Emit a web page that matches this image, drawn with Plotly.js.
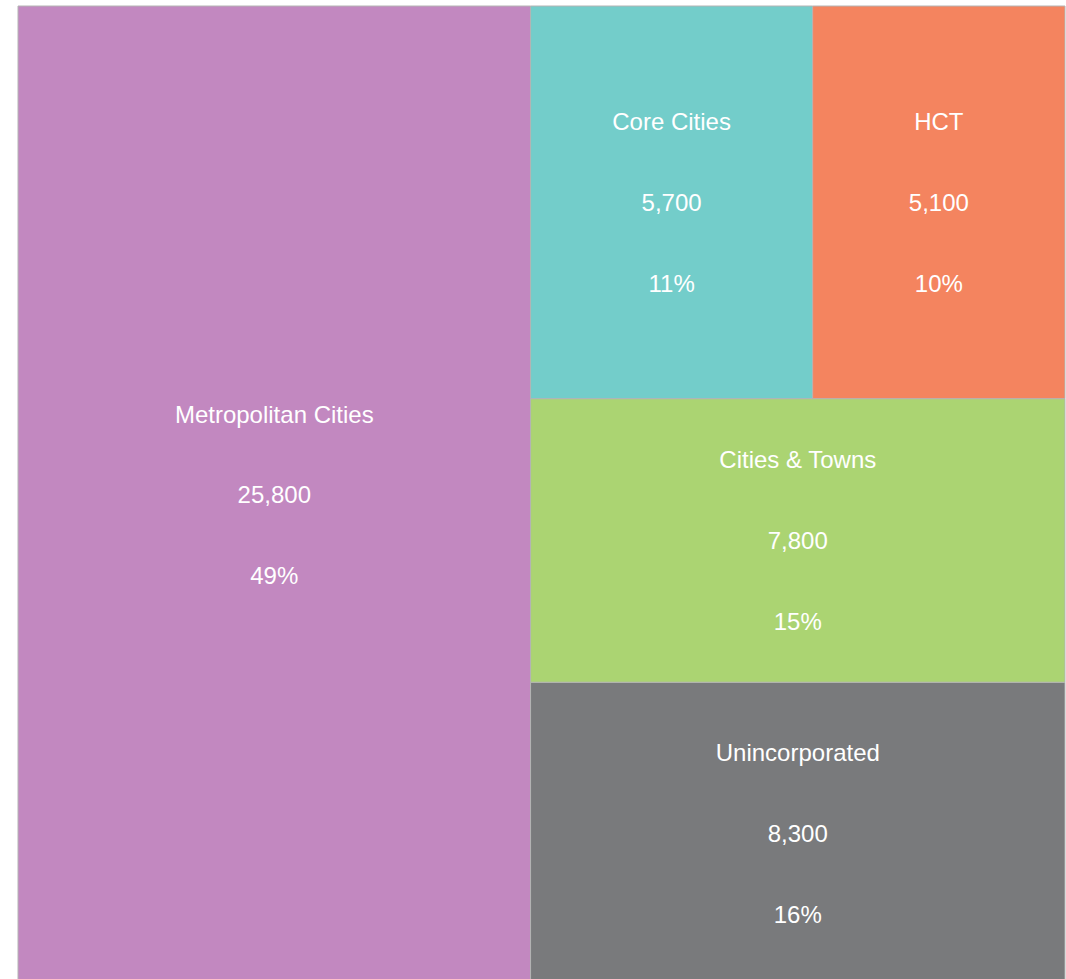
<!DOCTYPE html>
<html>
<head>
<meta charset="utf-8">
<script src="https://cdn.plot.ly/plotly-3.0.1.min.js"></script>
<style>html,body{margin:0;padding:0;background:#fff;overflow:hidden;}#chart{width:1066px;height:984px;}</style>
</head>
<body>
<div id="chart"></div>
<script>
const categories = ["Metropolitan Cities", "Unincorporated", "Cities & Towns", "Core Cities", "HCT"];
const values = [25800, 8300, 7800, 5700, 5100];
const parents = ["", "", "", "", ""];
const colors = ["#C288C0", "#797A7C", "#ABD472", "#73CDCA", "#F4845F"];

const sp = "<span style='font-size:24px'>";
const trace = {
  type: "treemap",
  labels: categories,
  parents: parents,
  values: values,
  sort: true,
  tiling: {packing: "squarify", flip: "y", pad: 0},
  marker: {colors: colors, line: {color: "#b4b4b4", width: 1}, pad: {t: 0, l: 0, r: 0, b: 0}},
  texttemplate: sp + "%{label}</span><br><br>" + sp + "%{value:,}</span><br><br>" + sp + "%{percentRoot:.0%}</span>",
  textposition: "middle center",
  textfont: {family: "Liberation Sans, Arial, sans-serif", size: 31.15, color: "#ffffff"},
  pathbar: {visible: false},
  hoverinfo: "label+value+percent root"
};

const layout = {
  width: 1066,
  height: 984,
  margin: {l: 18, r: 1, t: 6, b: 0},
  paper_bgcolor: "#ffffff",
  showlegend: false
};

Plotly.newPlot("chart", [trace], layout, {displayModeBar: false});
</script>
</body>
</html>
